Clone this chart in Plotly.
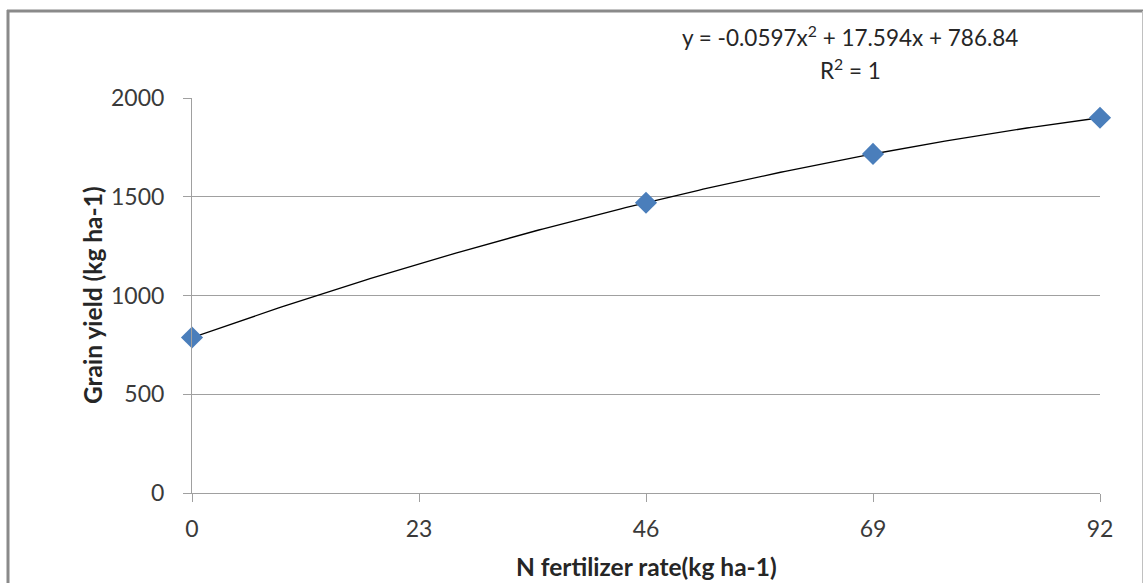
import numpy as np
import plotly.graph_objects as go

# Data
n_rate = [0, 46, 69, 92]
grain_yield = [787, 1470, 1717, 1900]
x_ticks = [0, 23, 46, 69, 92]
y_ticks = [0, 500, 1000, 1500, 2000]
eq_text = "y = -0.0597x<sup>2</sup> + 17.594x + 786.84"
r2_text = "R<sup>2</sup> = 1"
x_title = "N fertilizer rate(kg ha-1)"
y_title = "Grain yield (kg ha-1)"

# Polynomial (order 2) trendline fitted to the data
coef = np.polyfit(n_rate, grain_yield, 2)
xs = np.linspace(min(n_rate), max(n_rate), 200)
ys = np.polyval(coef, xs)

FONT = "Lato, Open Sans, sans-serif"
W, H = 1144, 583
L, R, T, B = 192, 1100, 98, 493
pw, ph = R - L, B - T

def px(x):
    return (x - L) / pw

def py(y):
    return (B - y) / ph

fig = go.Figure()
fig.add_trace(go.Scatter(x=xs, y=ys, mode="lines",
                         line=dict(color="black", width=1.3),
                         hoverinfo="skip", showlegend=False, cliponaxis=False))
fig.add_trace(go.Scatter(x=n_rate, y=grain_yield, mode="markers",
                         marker=dict(symbol="diamond", size=17, color="#4a7ebb",
                                     line=dict(width=0)),
                         showlegend=False, cliponaxis=False))

fig.update_layout(
    width=W, height=H, autosize=False,
    margin=dict(l=L, r=W - R, t=T, b=H - B, pad=0),
    paper_bgcolor="white", plot_bgcolor="white",
    font=dict(family=FONT, size=23, color="#3a3a3a"),
    xaxis=dict(range=[0, 92], tickvals=x_ticks, ticktext=[str(v) for v in x_ticks],
               showgrid=False, zeroline=False, showline=True, linecolor="#a0a0a0",
               linewidth=1, ticks="outside", ticklen=8, tickcolor="#a0a0a0",
               ticklabelstandoff=7),
    yaxis=dict(range=[0, 2000], tickvals=y_ticks, ticktext=[str(v) for v in y_ticks],
               showgrid=True, gridcolor="#a0a0a0", gridwidth=1, zeroline=False,
               showline=True, linecolor="#a0a0a0", linewidth=1,
               ticks="outside", ticklen=8, tickcolor="#a0a0a0",
               ticklabelstandoff=14),
    shapes=[
        dict(type="line", xref="paper", yref="paper", x0=px(8), x1=px(8),
             y0=py(10), y1=py(600), line=dict(color="#8a8a8a", width=3)),
        dict(type="line", xref="paper", yref="paper", x0=px(7), x1=px(1143),
             y0=py(11), y1=py(11), line=dict(color="#8a8a8a", width=3)),
        dict(type="line", xref="paper", yref="paper", x0=px(1142.5), x1=px(1142.5),
             y0=py(11), y1=py(600), line=dict(color="#c0c0c0", width=1)),
    ],
    annotations=[
        dict(text=eq_text, xref="paper", yref="paper", x=px(850), y=py(36),
             showarrow=False, xanchor="center", yanchor="middle",
             font=dict(family=FONT, size=22.5, color="#262626")),
        dict(text=r2_text, xref="paper", yref="paper", x=px(850), y=py(69),
             showarrow=False, xanchor="center", yanchor="middle",
             font=dict(family=FONT, size=22.5, color="#262626")),
        dict(text="<b>" + x_title + "</b>", xref="paper", yref="paper",
             x=px(646), y=py(566), showarrow=False, xanchor="center", yanchor="middle",
             font=dict(family=FONT, size=24.5, color="#262626")),
        dict(text="<b>" + y_title + "</b>", xref="paper", yref="paper",
             x=px(92), y=py(295), showarrow=False, xanchor="center", yanchor="middle",
             textangle=-90, font=dict(family=FONT, size=24.5, color="#262626")),
    ],
)

fig.write_html("out.html")
